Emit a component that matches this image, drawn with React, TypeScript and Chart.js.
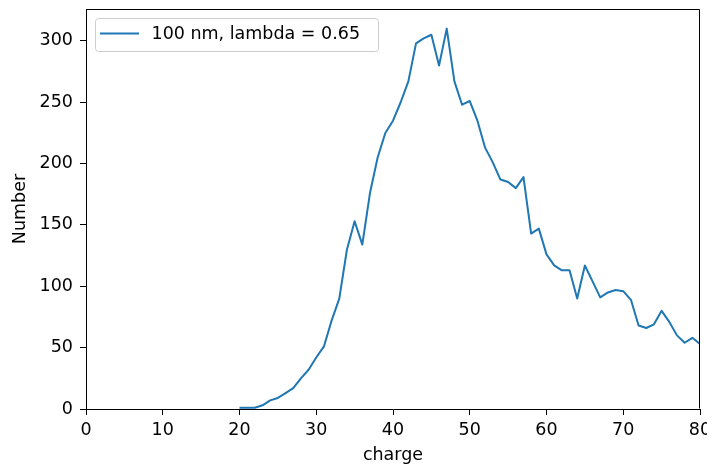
import React, { useEffect, useRef } from "react";
import { Chart, registerables } from "chart.js";

Chart.register(...registerables);

const charges: number[] = [
  20, 21, 22, 23, 24, 25, 26, 27, 28, 29,
  30, 31, 32, 33, 34, 35, 36, 37, 38, 39,
  40, 41, 42, 43, 44, 45, 46, 47, 48, 49,
  50, 51, 52, 53, 54, 55, 56, 57, 58, 59,
  60, 61, 62, 63, 64, 65, 66, 67, 68, 69,
  70, 71, 72, 73, 74, 75, 76, 77, 78, 79, 80,
];
const counts: number[] = [
  1, 1, 1, 3, 7, 9, 13, 17, 25, 32,
  42, 51, 72, 90, 130, 153, 134, 176, 205, 225,
  235, 250, 267, 298, 302, 305, 280, 310, 267, 248,
  251, 235, 213, 201, 187, 185, 180, 189, 143, 147,
  126, 117, 113, 113, 90, 117, 104, 91, 95, 97,
  96, 89, 68, 66, 69, 80, 71, 60, 54, 58, 53,
];
const seriesLabel = "100 nm, lambda = 0.65";
const xTitle = "charge";
const yTitle = "Number";
const xTickValues: number[] = [0, 10, 20, 30, 40, 50, 60, 70, 80];
const yTickValues: number[] = [0, 50, 100, 150, 200, 250, 300];

const FONT = "DejaVu Sans";
const FS = 17.5;
const LINE_COLOR = "#1f77b4";

const framePlugin = {
  id: "frame",
  afterDraw(chart: any) {
    const { ctx, chartArea } = chart;
    const l = Math.round(chartArea.left) + 0.5;
    const r = Math.round(chartArea.right) - 0.5;
    const t = Math.round(chartArea.top) + 0.5;
    const b = Math.round(chartArea.bottom) - 0.5;
    ctx.save();
    ctx.strokeStyle = "#000";
    ctx.lineWidth = 1;
    ctx.beginPath();
    ctx.moveTo(l, t);
    ctx.lineTo(r, t);
    ctx.lineTo(r, b);
    ctx.moveTo(l, t);
    ctx.lineTo(l, b);
    ctx.stroke();

    // legend (matplotlib style, upper left)
    const lx = chartArea.left + 9.5;
    const ly = chartArea.top + 9.5;
    const lw = 283;
    const lh = 33;
    ctx.beginPath();
    if ((ctx as any).roundRect) {
      (ctx as any).roundRect(lx, ly, lw, lh, 3);
    } else {
      ctx.rect(lx, ly, lw, lh);
    }
    ctx.fillStyle = "rgba(255,255,255,0.8)";
    ctx.fill();
    ctx.strokeStyle = "#cccccc";
    ctx.stroke();
    ctx.beginPath();
    ctx.strokeStyle = LINE_COLOR;
    ctx.lineWidth = 2;
    ctx.moveTo(lx + 4.5, ly + 15);
    ctx.lineTo(lx + 43.5, ly + 15);
    ctx.stroke();
    ctx.fillStyle = "#000";
    ctx.font = `${FS}px "${FONT}"`;
    ctx.textBaseline = "middle";
    ctx.textAlign = "left";
    ctx.fillText(seriesLabel, lx + 56, ly + 16);
    ctx.restore();
  },
};

export default function App() {
  const ref = useRef<HTMLCanvasElement | null>(null);
  useEffect(() => {
    if (!ref.current) return;
    const chart = new Chart(ref.current, {
      type: "line",
      data: {
        datasets: [
          {
            label: seriesLabel,
            data: charges.map((c, i) => ({ x: c, y: counts[i] })),
            borderColor: LINE_COLOR,
            backgroundColor: LINE_COLOR,
            borderWidth: 2,
            pointRadius: 0,
            tension: 0,
            fill: false,
            borderJoinStyle: "round",
          },
        ],
      },
      options: {
        animation: false,
        responsive: false,
        devicePixelRatio: 1,
        layout: { padding: { top: 9, right: 7, left: 0, bottom: 0 } },
        plugins: { legend: { display: false }, tooltip: { enabled: false } },
        scales: {
          x: {
            type: "linear",
            min: 0,
            max: 80,
            afterBuildTicks: (s: any) => {
              s.ticks = xTickValues.map((v) => ({ value: v }));
            },
            afterFit: (s: any) => {
              s.height = 56;
              s.paddingLeft = 0;
              s.paddingRight = 0;
            },
            ticks: {
              color: "#000",
              font: { family: FONT, size: FS },
              padding: 5,
              maxRotation: 0,
              autoSkip: false,
            },
            grid: {
              drawOnChartArea: false,
              drawTicks: true,
              tickLength: 6,
              color: "#000",
              tickColor: "#000",
            },
            border: { color: "#000", width: 1 },
            title: {
              display: true,
              text: xTitle,
              color: "#000",
              font: { family: FONT, size: FS },
              padding: { top: 0, bottom: -1 },
            },
          },
          y: {
            type: "linear",
            min: 0,
            max: 326,
            afterBuildTicks: (s: any) => {
              s.ticks = yTickValues.map((v) => ({ value: v }));
            },
            afterFit: (s: any) => {
              s.width = 86;
              s.paddingTop = 0;
              s.paddingBottom = 0;
            },
            ticks: {
              color: "#000",
              font: { family: FONT, size: FS },
              padding: 7,
              autoSkip: false,
            },
            grid: {
              drawOnChartArea: false,
              drawTicks: true,
              tickLength: 6,
              color: "#000",
              tickColor: "#000",
            },
            border: { color: "#000", width: 1 },
            title: {
              display: true,
              text: yTitle,
              color: "#000",
              font: { family: FONT, size: FS },
              padding: { top: 10, bottom: 0 },
            },
          },
        },
      },
      plugins: [framePlugin],
    } as any);
    return () => chart.destroy();
  }, []);
  return (
    <div style={{ position: "absolute", left: 0, top: 0, width: 707, height: 465, background: "#fff" }}>
      <canvas ref={ref} width={707} height={465} style={{ display: "block" }} />
    </div>
  );
}
